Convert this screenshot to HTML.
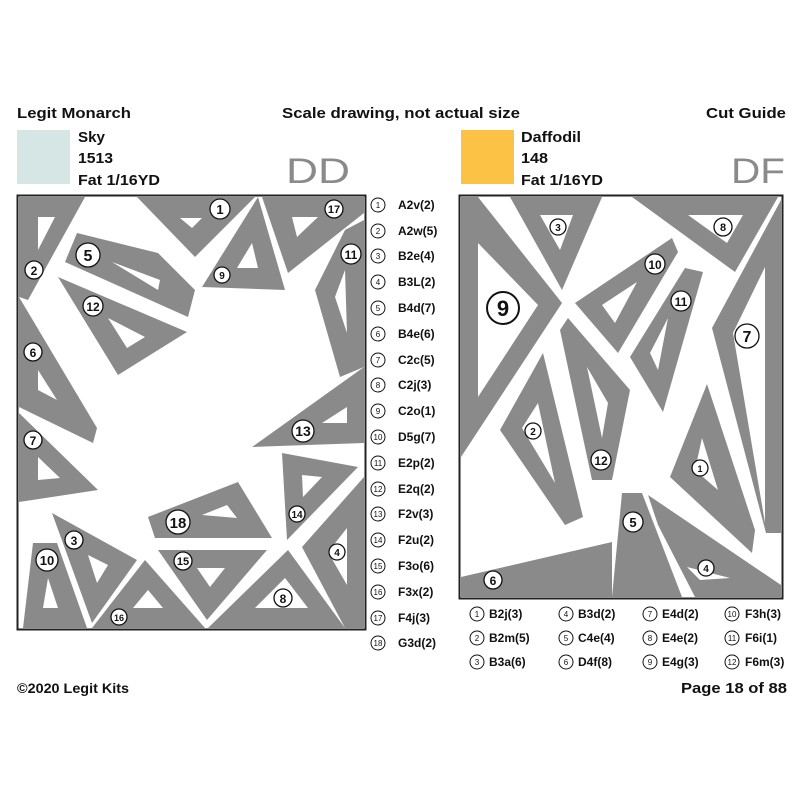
<!DOCTYPE html>
<html><head><meta charset="utf-8"><style>
html,body{margin:0;padding:0;background:#fff;width:800px;height:800px;overflow:hidden}
svg{display:block}
text{font-family:"Liberation Sans",sans-serif}
</style></head><body>
<svg width="800" height="800" viewBox="0 0 800 800" xmlns="http://www.w3.org/2000/svg">
<g font-weight="bold" font-size="15" fill="#111">
<text x="17" y="118" textLength="114" lengthAdjust="spacingAndGlyphs">Legit Monarch</text>
<text x="282" y="118" textLength="238" lengthAdjust="spacingAndGlyphs">Scale drawing, not actual size</text>
<text x="706" y="118" textLength="80" lengthAdjust="spacingAndGlyphs">Cut Guide</text>
<text x="78" y="142" textLength="27" lengthAdjust="spacingAndGlyphs">Sky</text>
<text x="78" y="163" textLength="35" lengthAdjust="spacingAndGlyphs">1513</text>
<text x="78" y="185" textLength="82" lengthAdjust="spacingAndGlyphs">Fat 1/16YD</text>
<text x="521" y="142" textLength="60" lengthAdjust="spacingAndGlyphs">Daffodil</text>
<text x="521" y="163" textLength="27" lengthAdjust="spacingAndGlyphs">148</text>
<text x="521" y="185" textLength="82" lengthAdjust="spacingAndGlyphs">Fat 1/16YD</text>
<text x="17" y="693" font-size="14" textLength="112" lengthAdjust="spacingAndGlyphs">©2020 Legit Kits</text>
<text x="681" y="693" font-size="15" textLength="106" lengthAdjust="spacingAndGlyphs">Page 18 of 88</text>
</g>
<rect x="17" y="130" width="53" height="54" fill="#d6e6e4"/>
<rect x="461" y="130" width="53" height="54" fill="#fcc246"/>
<text x="286" y="183" font-size="35" fill="#8a8a8a" textLength="64" lengthAdjust="spacingAndGlyphs">DD</text>
<text x="731" y="183" font-size="35" fill="#8a8a8a" textLength="54" lengthAdjust="spacingAndGlyphs">DF</text>

<!-- LEFT PANEL -->
<rect x="17.5" y="195.5" width="348" height="434" fill="#fff" stroke="#222" stroke-width="2"/>
<g fill="#8a8a8a">
<polygon points="19,197 85,197 28,300 19,297"/>
<polygon points="137,197 255,197 195,257"/>
<polygon points="258,197 285,290 202,287"/>
<polygon points="262,197 364,197 364,213 288,273"/>
<polygon points="364,220 345,230 315,290 340,377 364,367"/>
<polygon points="77,233 158,253 195,290 188,317 65,262"/>
<polygon points="58,277 187,332 118,375"/>
<polygon points="19,297 97,428 93,443 19,407"/>
<polygon points="19,413 98,490 19,502"/>
<polygon points="364,367 364,443 252,447"/>
<polygon points="282,453 358,467 287,540"/>
<polygon points="148,517 238,482 272,538 155,538"/>
<polygon points="364,477 302,547 345,628 364,628"/>
<polygon points="288,550 345,628 208,628"/>
<polygon points="158,550 267,550 207,620"/>
<polygon points="145,560 205,628 92,628"/>
<polygon points="52,513 137,560 92,623"/>
<polygon points="33,543 57,543 87,628 23,628"/>
</g>
<g fill="#fff">
<polygon points="38,217 55,217 38,250"/>
<polygon points="180,218 202,218 192,228"/>
<polygon points="252,243 258,268 237,268"/>
<polygon points="292,217 318,217 297,237"/>
<polygon points="345,270 335,297 347,333"/>
<polygon points="112,262 160,280 158,290"/>
<polygon points="108,318 145,337 127,348"/>
<polygon points="38,370 57,400 38,390"/>
<polygon points="38,457 60,478 38,480"/>
<polygon points="347,407 347,423 322,423"/>
<polygon points="302,475 322,477 303,497"/>
<polygon points="202,515 227,505 237,518"/>
<polygon points="347,528 347,585 328,552"/>
<polygon points="285,578 308,608 255,608"/>
<polygon points="197,568 225,568 210,587"/>
<polygon points="148,590 163,608 133,608"/>
<polygon points="88,555 108,565 97,583"/>
<polygon points="48,578 58,608 43,608"/>
</g>
<g font-weight="bold" text-anchor="middle" fill="#111" stroke-width="1.3">
<g fill="#fff" stroke="#111">
<circle cx="220" cy="209" r="10"/><circle cx="334" cy="209" r="9"/><circle cx="34" cy="270" r="9"/>
<circle cx="88" cy="255" r="12"/><circle cx="222" cy="275" r="8"/><circle cx="351" cy="254" r="10"/>
<circle cx="93" cy="306" r="10"/><circle cx="33" cy="352" r="9"/><circle cx="33" cy="440" r="9"/>
<circle cx="303" cy="431" r="11"/><circle cx="178" cy="522" r="12"/><circle cx="297" cy="514" r="8"/>
<circle cx="74" cy="540" r="9"/><circle cx="47" cy="560" r="11"/><circle cx="183" cy="561" r="9"/>
<circle cx="337" cy="552" r="8"/><circle cx="283" cy="598" r="9"/><circle cx="119" cy="617" r="8"/>
</g>
<text x="220" y="214" font-size="13">1</text><text x="334" y="213" font-size="11">17</text><text x="34" y="275" font-size="12">2</text>
<text x="88" y="261" font-size="16">5</text><text x="222" y="279" font-size="10">9</text><text x="351" y="259" font-size="12">11</text>
<text x="93" y="311" font-size="12">12</text><text x="33" y="357" font-size="12">6</text><text x="33" y="445" font-size="12">7</text>
<text x="303" y="436" font-size="14">13</text><text x="178" y="528" font-size="15">18</text><text x="297" y="518" font-size="10">14</text>
<text x="74" y="545" font-size="12">3</text><text x="47" y="565" font-size="13">10</text><text x="183" y="565" font-size="11">15</text>
<text x="337" y="556" font-size="10">4</text><text x="283" y="603" font-size="12">8</text><text x="119" y="621" font-size="9">16</text>
</g>

<!-- LEFT LEGEND -->
<g font-size="12" font-weight="bold" fill="#111">
<g fill="#fff" stroke="#111" stroke-width="1">
<circle cx="378" cy="205" r="7"/><circle cx="378" cy="231" r="7"/><circle cx="378" cy="256" r="7"/><circle cx="378" cy="282" r="7"/><circle cx="378" cy="308" r="7"/><circle cx="378" cy="334" r="7"/><circle cx="378" cy="360" r="7"/><circle cx="378" cy="385" r="7"/><circle cx="378" cy="411" r="7"/><circle cx="378" cy="437" r="7"/><circle cx="378" cy="463" r="7"/><circle cx="378" cy="489" r="7"/><circle cx="378" cy="514" r="7"/><circle cx="378" cy="540" r="7"/><circle cx="378" cy="566" r="7"/><circle cx="378" cy="592" r="7"/><circle cx="378" cy="618" r="7"/><circle cx="378" cy="643" r="7"/>
</g>
<g text-anchor="middle" font-size="8" font-weight="normal">
<text x="378" y="208">1</text><text x="378" y="234">2</text><text x="378" y="259">3</text><text x="378" y="285">4</text><text x="378" y="311">5</text><text x="378" y="337">6</text><text x="378" y="363">7</text><text x="378" y="388">8</text><text x="378" y="414">9</text><text x="378" y="440">10</text><text x="378" y="466">11</text><text x="378" y="492">12</text><text x="378" y="517">13</text><text x="378" y="543">14</text><text x="378" y="569">15</text><text x="378" y="595">16</text><text x="378" y="621">17</text><text x="378" y="646">18</text>
</g>
<text x="398" y="209">A2v(2)</text><text x="398" y="235">A2w(5)</text><text x="398" y="260">B2e(4)</text><text x="398" y="286">B3L(2)</text><text x="398" y="312">B4d(7)</text><text x="398" y="338">B4e(6)</text><text x="398" y="364">C2c(5)</text><text x="398" y="389">C2j(3)</text><text x="398" y="415">C2o(1)</text><text x="398" y="441">D5g(7)</text><text x="398" y="467">E2p(2)</text><text x="398" y="493">E2q(2)</text><text x="398" y="518">F2v(3)</text><text x="398" y="544">F2u(2)</text><text x="398" y="570">F3o(6)</text><text x="398" y="596">F3x(2)</text><text x="398" y="622">F4j(3)</text><text x="398" y="647">G3d(2)</text>
</g>

<!-- RIGHT PANEL -->
<rect x="459.5" y="195.5" width="323" height="403" fill="#fff" stroke="#222" stroke-width="2"/>
<g fill="#8a8a8a">
<polygon points="461,197 478,197 562,303 461,457"/>
<polygon points="510,197 602,197 562,290"/>
<polygon points="632,197 778,197 735,272"/>
<polygon points="781,200 781,533 766,533 712,328"/>
<polygon points="672,238 678,252 618,353 575,303"/>
<polygon points="685,268 703,272 663,412 630,357"/>
<polygon points="568,318 630,390 612,480 592,480 560,330"/>
<polygon points="543,353 583,517 565,525 500,430"/>
<polygon points="707,384 755,530 752,553 670,477"/>
<polygon points="622,493 642,493 682,597 612,597"/>
<polygon points="648,495 781,585 781,597 695,597 658,525"/>
<polygon points="461,577 612,542 612,597 461,597"/>
</g>
<g fill="#fff">
<polygon points="478,243 538,305 478,397"/>
<polygon points="540,215 573,215 560,250"/>
<polygon points="688,215 743,215 727,243"/>
<polygon points="765,267 765,523 733,333"/>
<polygon points="637,282 615,323 602,305"/>
<polygon points="668,318 658,370 650,353"/>
<polygon points="587,367 608,403 602,438"/>
<polygon points="538,403 555,483 522,428"/>
<polygon points="702,438 718,490 695,470"/>
<polygon points="687,567 730,578 700,580"/>
</g>
<g font-weight="bold" text-anchor="middle" fill="#111" stroke-width="1.3">
<g fill="#fff" stroke="#111">
<circle cx="558" cy="227" r="8"/><circle cx="723" cy="227" r="9"/><circle cx="503" cy="308" r="16" stroke-width="2"/>
<circle cx="655" cy="264" r="10"/><circle cx="681" cy="301" r="10"/><circle cx="747" cy="336" r="12"/>
<circle cx="533" cy="431" r="8"/><circle cx="601" cy="460" r="10"/><circle cx="700" cy="468" r="8"/>
<circle cx="633" cy="522" r="10"/><circle cx="706" cy="568" r="8"/><circle cx="493" cy="580" r="9"/>
</g>
<text x="558" y="231" font-size="10">3</text><text x="723" y="231" font-size="11">8</text><text x="503" y="316" font-size="22">9</text>
<text x="655" y="269" font-size="12">10</text><text x="681" y="306" font-size="12">11</text><text x="747" y="342" font-size="16">7</text>
<text x="533" y="435" font-size="10">2</text><text x="601" y="465" font-size="12">12</text><text x="700" y="472" font-size="9">1</text>
<text x="633" y="527" font-size="13">5</text><text x="706" y="572" font-size="10">4</text><text x="493" y="585" font-size="12">6</text>
</g>

<!-- RIGHT LEGEND -->
<g font-size="12" font-weight="bold" fill="#111">
<g fill="#fff" stroke="#111" stroke-width="1">
<circle cx="477" cy="614" r="7"/><circle cx="477" cy="638" r="7"/><circle cx="477" cy="662" r="7"/>
<circle cx="566" cy="614" r="7"/><circle cx="566" cy="638" r="7"/><circle cx="566" cy="662" r="7"/>
<circle cx="650" cy="614" r="7"/><circle cx="650" cy="638" r="7"/><circle cx="650" cy="662" r="7"/>
<circle cx="732" cy="614" r="7"/><circle cx="732" cy="638" r="7"/><circle cx="732" cy="662" r="7"/>
</g>
<g text-anchor="middle" font-size="8" font-weight="normal">
<text x="477" y="617">1</text><text x="477" y="641">2</text><text x="477" y="665">3</text>
<text x="566" y="617">4</text><text x="566" y="641">5</text><text x="566" y="665">6</text>
<text x="650" y="617">7</text><text x="650" y="641">8</text><text x="650" y="665">9</text>
<text x="732" y="617">10</text><text x="732" y="641">11</text><text x="732" y="665">12</text>
</g>
<text x="489" y="618">B2j(3)</text><text x="489" y="642">B2m(5)</text><text x="489" y="666">B3a(6)</text>
<text x="578" y="618">B3d(2)</text><text x="578" y="642">C4e(4)</text><text x="578" y="666">D4f(8)</text>
<text x="662" y="618">E4d(2)</text><text x="662" y="642">E4e(2)</text><text x="662" y="666">E4g(3)</text>
<text x="745" y="618">F3h(3)</text><text x="745" y="642">F6i(1)</text><text x="745" y="666">F6m(3)</text>
</g>
</svg>
</body></html>
